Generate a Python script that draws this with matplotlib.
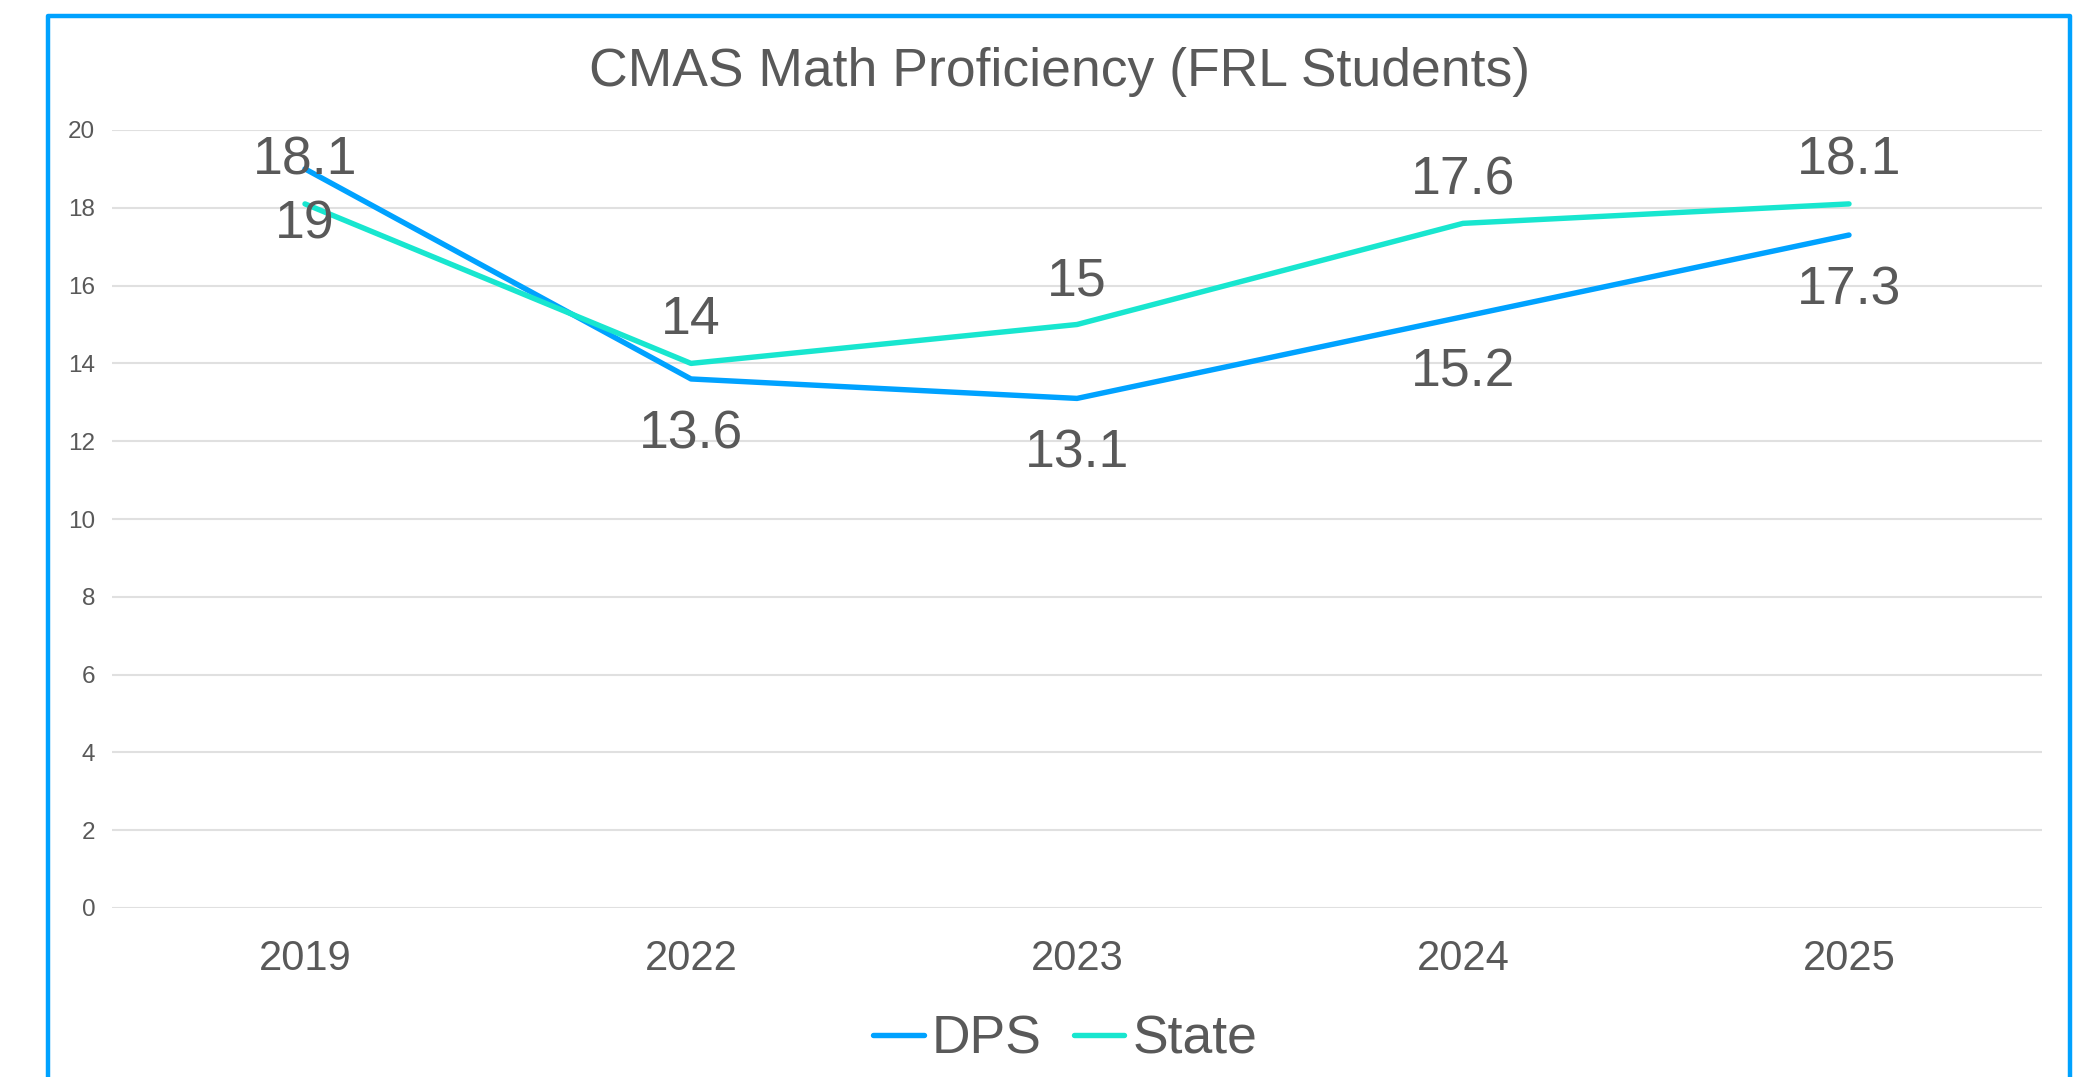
import matplotlib.pyplot as plt
from matplotlib.patches import Rectangle

plt.rcParams['font.family'] = ['Liberation Sans', 'DejaVu Sans']

years = ['2019', '2022', '2023', '2024', '2025']
dps = [19, 13.6, 13.1, 15.2, 17.3]
state = [18.1, 14, 15, 17.6, 18.1]
y_ticks = [0, 2, 4, 6, 8, 10, 12, 14, 16, 18, 20]

text_color = '#595959'
dps_color = '#00A2FF'
state_color = '#18E6CF'

fig = plt.figure(figsize=(20.74, 10.77), dpi=100)
ax = fig.add_axes([112 / 2074, 1 - 908 / 1077, (2042 - 112) / 2074, (908 - 130) / 1077])

x = list(range(len(years)))
ax.plot(x, dps, color=dps_color, lw=3.9, solid_capstyle='round', label='DPS')
ax.plot(x, state, color=state_color, lw=3.9, solid_capstyle='round', label='State')

# data labels: DPS below, State above
for xi, v in zip(x, dps):
    ax.annotate(f'{v:g}', (xi, v), xytext=(0, -40), textcoords='offset points',
                ha='center', va='center', fontsize=38.5, color=text_color)
for xi, v in zip(x, state):
    ax.annotate(f'{v:g}', (xi, v), xytext=(0, 31), textcoords='offset points',
                ha='center', va='center', fontsize=38.5, color=text_color)

ax.set_xlim(-0.5, len(years) - 0.5)
ax.set_ylim(0, 20)
ax.set_yticks(y_ticks)
ax.set_xticks(x)
ax.set_xticklabels(years)
ax.tick_params(axis='x', length=0, pad=22, labelsize=30, labelcolor=text_color)
ax.tick_params(axis='y', length=0, pad=12, labelsize=17.5, labelcolor=text_color)
ax.grid(axis='y', color='#E0E0E0', lw=1.5)
ax.set_axisbelow(True)
for s in ax.spines.values():
    s.set_visible(False)

fig.text(1060 / 2074, 1 - 72 / 1077, 'CMAS Math Proficiency (FRL Students)',
         ha='center', va='center', fontsize=38.5, color=text_color)

leg = fig.legend(loc='center', bbox_to_anchor=(1065 / 2074, 1 - 1040 / 1077), ncol=2,
                 frameon=False, fontsize=38.5, handlelength=0.95, handletextpad=0.15,
                 columnspacing=0.6)
for t in leg.get_texts():
    t.set_color(text_color)

# outer chart border (bottom edge runs off the image)
fig.patches.append(Rectangle((48 / 2074, -0.1), (2070 - 48) / 2074, 1.1 - 16 / 1077,
                             transform=fig.transFigure, fill=False,
                             edgecolor=dps_color, lw=3.2, joinstyle='round'))

fig.savefig('out.png', dpi=100)
